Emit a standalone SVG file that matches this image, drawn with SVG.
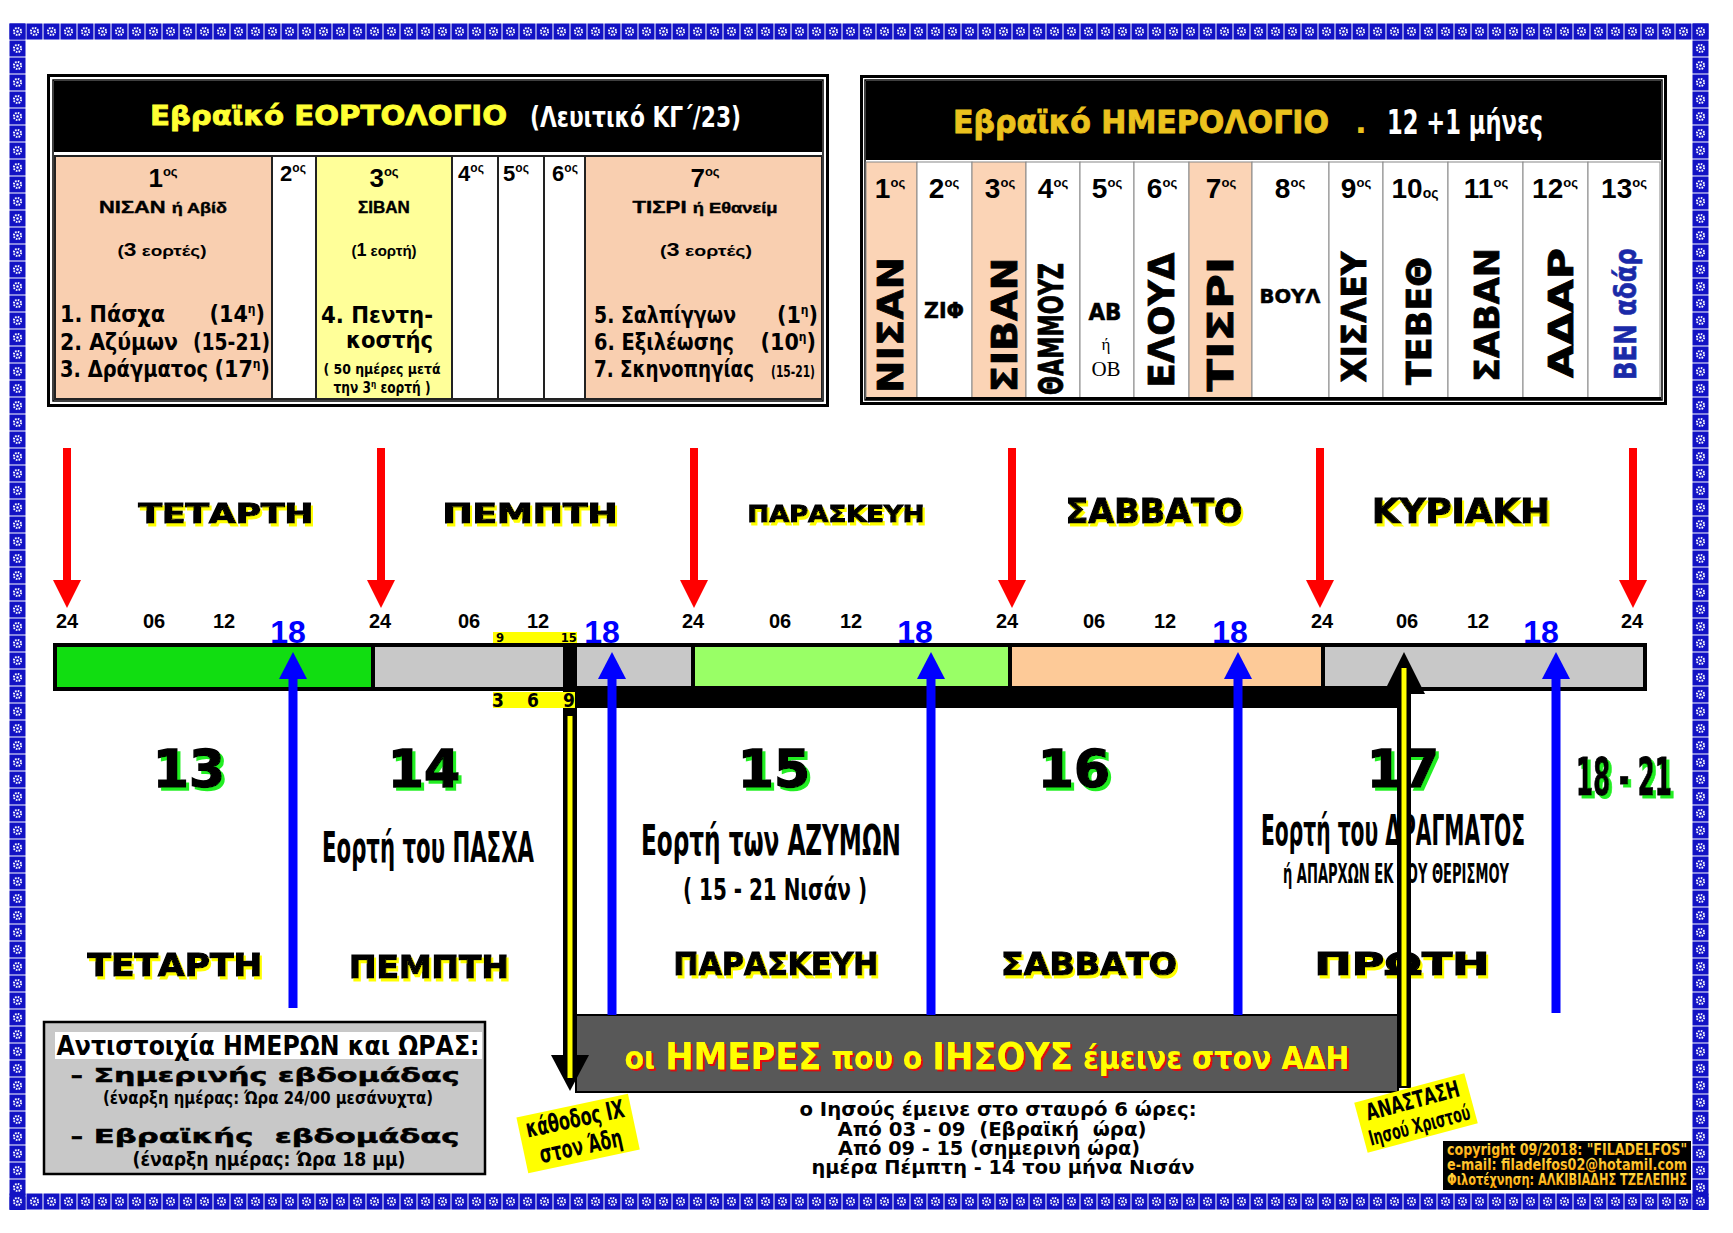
<svg xmlns="http://www.w3.org/2000/svg" width="1733" height="1233" viewBox="0 0 1733 1233">
<defs>
<style>
.hv{font-family:"DejaVu Sans","Liberation Sans",sans-serif;font-weight:bold}
.nb{font-family:"Liberation Sans Narrow","DejaVu Sans Condensed","Liberation Sans",sans-serif;font-weight:bold}
.ab{font-family:"Liberation Sans",Arial,sans-serif;font-weight:bold}
.sf{font-family:"Liberation Serif","Times New Roman",serif}
.m{text-anchor:middle}
.e{text-anchor:end}
.pre{white-space:pre}
.day{fill:#000;stroke:#000;stroke-width:1.2}
.num{fill:#000;stroke:#000;stroke-width:1.5}
.hr{font-size:20px;fill:#000}
.h18{font-size:32px;fill:#0000ff}
.vert{fill:#000;stroke:#000;stroke-width:0.8}
.mid4{font-size:19px;fill:#000}
.cell{stroke:#888;stroke-width:1}
</style>
<g id="tileG">
<rect x="0.5" y="0.5" width="16" height="16" fill="#1212c4"/>
<circle cx="8.5" cy="8.5" r="3.6" fill="none" stroke="#fff" stroke-width="2" stroke-dasharray="1.6 1.2"/>
<circle cx="8.5" cy="8.5" r="1.2" fill="#fff"/>
</g>
<pattern id="tileA" x="9" y="23" width="17" height="17" patternUnits="userSpaceOnUse"><use href="#tileG"/></pattern>
<pattern id="tileB" x="9" y="1193" width="17" height="17" patternUnits="userSpaceOnUse"><use href="#tileG"/></pattern>
<filter id="shY" x="-10%" y="-20%" width="130%" height="160%">
<feFlood flood-color="#ffff00"/><feComposite in2="SourceAlpha" operator="in"/><feOffset dx="2" dy="3" result="s"/>
<feMerge><feMergeNode in="s"/><feMergeNode in="SourceGraphic"/></feMerge>
</filter>
<filter id="shG" x="-10%" y="-20%" width="130%" height="160%">
<feFlood flood-color="#22ee22"/><feComposite in2="SourceAlpha" operator="in"/><feOffset dx="3" dy="3" result="s"/>
<feMerge><feMergeNode in="s"/><feMergeNode in="SourceGraphic"/></feMerge>
</filter>
<filter id="shR" x="-10%" y="-20%" width="130%" height="160%">
<feFlood flood-color="#e01010"/><feComposite in2="SourceAlpha" operator="in"/><feOffset dx="2" dy="2" result="s"/>
<feMerge><feMergeNode in="s"/><feMergeNode in="SourceGraphic"/></feMerge>
</filter>
<linearGradient id="gOr" x1="0" y1="0" x2="0" y2="1"><stop offset="0" stop-color="#ffe44d"/><stop offset="1" stop-color="#ff9a00"/></linearGradient>
<marker id="hRed" markerUnits="userSpaceOnUse" markerWidth="28" markerHeight="28" viewBox="0 0 28 28" refX="1" refY="14" orient="auto"><path d="M0,0 L28,14 L0,28 Z" fill="#ff0000"/></marker>
<marker id="hBlue" markerUnits="userSpaceOnUse" markerWidth="27" markerHeight="28" viewBox="0 0 27 28" refX="1" refY="14" orient="auto"><path d="M0,0 L27,14 L0,28 Z" fill="#0000ff"/></marker>
<marker id="hBlkD" markerUnits="userSpaceOnUse" markerWidth="36" markerHeight="38" viewBox="0 0 36 38" refX="1" refY="19" orient="auto"><path d="M0,0 L36,19 L0,38 Z" fill="#000"/></marker>
<marker id="hBlkU" markerUnits="userSpaceOnUse" markerWidth="42" markerHeight="42" viewBox="0 0 42 42" refX="1" refY="21" orient="auto"><path d="M0,0 L42,21 L0,42 Z" fill="#000"/></marker>
</defs>

<rect x="0" y="0" width="1733" height="1233" fill="#fff"/>

<g id="border">
<rect x="9" y="23" width="1700" height="17" fill="url(#tileA)"/>
<rect x="9" y="23" width="17" height="1187" fill="url(#tileA)"/>
<rect x="1692" y="23" width="17" height="1187" fill="url(#tileA)"/>
<rect x="9" y="1193" width="1700" height="17" fill="url(#tileB)"/>
</g>

<g id="festival-table">
<rect x="48.5" y="75.5" width="779" height="330" fill="#fff" stroke="#000" stroke-width="3"/>
<rect x="53" y="80" width="770" height="321" fill="none" stroke="#000" stroke-width="1.5"/>
<rect x="54" y="81" width="768" height="71" fill="#000"/>
<rect x="54" y="155" width="768" height="245" fill="#222"/>
<rect x="56" y="157" width="215" height="241" fill="#f9cfb0"/>
<rect x="273" y="157" width="42" height="241" fill="#fff"/>
<rect x="317" y="157" width="134" height="241" fill="#ffff99"/>
<rect x="453" y="157" width="44" height="241" fill="#fff"/>
<rect x="499" y="157" width="44" height="241" fill="#fff"/>
<rect x="545" y="157" width="39" height="241" fill="#fff"/>
<rect x="586" y="157" width="235" height="241" fill="#f9cfb0"/>
<text class="hv" x="150" y="125" font-size="27" fill="#ffff33" stroke="#ffff33" stroke-width="0.8" textLength="357" lengthAdjust="spacingAndGlyphs">Εβραϊκό ΕΟΡΤΟΛΟΓΙΟ</text>
<text class="nb" x="530" y="127" font-size="28" fill="#fff" textLength="211" lengthAdjust="spacingAndGlyphs">(Λευιτικό ΚΓ΄/23)</text>
<text class="ab m" x="163" y="187" font-size="26">1<tspan font-size="13" dy="-11">ος</tspan></text>
<text class="ab m" x="163" y="213" font-size="17" stroke="#000" stroke-width="0.4" textLength="128" lengthAdjust="spacingAndGlyphs">ΝΙΣΑΝ <tspan font-size="14">ή Αβίδ</tspan></text>
<text class="ab m" x="162" y="256" font-size="15" textLength="89" lengthAdjust="spacingAndGlyphs">(<tspan font-size="18">3</tspan> εορτές)</text>
<text class="nb" x="60" y="322" font-size="23" textLength="105" lengthAdjust="spacingAndGlyphs">1. Πάσχα</text>
<text class="nb e" x="265" y="322" font-size="23">(14<tspan font-size="12" dy="-9">η</tspan><tspan dy="9">)</tspan></text>
<text class="nb" x="60" y="350" font-size="23" textLength="118" lengthAdjust="spacingAndGlyphs">2. Αζύμων</text>
<text class="nb e" x="270" y="350" font-size="23" textLength="77" lengthAdjust="spacingAndGlyphs">(15-21)</text>
<text class="nb" x="60" y="377" font-size="23" textLength="148" lengthAdjust="spacingAndGlyphs">3. Δράγματος</text>
<text class="nb e" x="270" y="377" font-size="23">(17<tspan font-size="12" dy="-9">η</tspan><tspan dy="9">)</tspan></text>
<text class="ab m" x="293" y="181" font-size="22">2<tspan font-size="12" dy="-9">ος</tspan></text>
<text class="ab m" x="384" y="187" font-size="26">3<tspan font-size="13" dy="-11">ος</tspan></text>
<text class="ab m" x="384" y="213" font-size="17" stroke="#000" stroke-width="0.4">ΣΙΒΑΝ</text>
<text class="ab m" x="384" y="256" font-size="15">(<tspan font-size="18">1</tspan> εορτή)</text>
<text class="nb" x="321" y="323" font-size="23" textLength="112" lengthAdjust="spacingAndGlyphs">4. Πεντη-</text>
<text class="nb e" x="433" y="348" font-size="23" textLength="87" lengthAdjust="spacingAndGlyphs">κοστής</text>
<text class="nb m pre" x="382" y="374" font-size="14" textLength="117" lengthAdjust="spacingAndGlyphs">( 50 ημέρες μετά</text>
<text class="nb m" x="382" y="393" font-size="15" textLength="97" lengthAdjust="spacingAndGlyphs">την 3<tspan font-size="9" dy="-6">η</tspan><tspan dy="6"> εορτή )</tspan></text>
<text class="ab m" x="471" y="181" font-size="22">4<tspan font-size="12" dy="-9">ος</tspan></text>
<text class="ab m" x="516" y="181" font-size="22">5<tspan font-size="12" dy="-9">ος</tspan></text>
<text class="ab m" x="565" y="181" font-size="22">6<tspan font-size="12" dy="-9">ος</tspan></text>
<text class="ab m" x="705" y="187" font-size="26">7<tspan font-size="13" dy="-11">ος</tspan></text>
<text class="ab m" x="705" y="213" font-size="17" stroke="#000" stroke-width="0.4" textLength="145" lengthAdjust="spacingAndGlyphs">ΤΙΣΡΙ <tspan font-size="14">ή Εθανείμ</tspan></text>
<text class="ab m" x="706" y="256" font-size="15" textLength="92" lengthAdjust="spacingAndGlyphs">(<tspan font-size="18">3</tspan> εορτές)</text>
<text class="nb" x="594" y="323" font-size="23" textLength="142" lengthAdjust="spacingAndGlyphs">5. Σαλπίγγων</text>
<text class="nb e" x="818" y="323" font-size="23">(1<tspan font-size="12" dy="-9">η</tspan><tspan dy="9">)</tspan></text>
<text class="nb" x="594" y="350" font-size="23" textLength="140" lengthAdjust="spacingAndGlyphs">6. Εξιλέωσης</text>
<text class="nb e" x="816" y="350" font-size="23">(10<tspan font-size="12" dy="-9">η</tspan><tspan dy="9">)</tspan></text>
<text class="nb" x="594" y="377" font-size="23" textLength="160" lengthAdjust="spacingAndGlyphs">7. Σκηνοπηγίας</text>
<text class="nb e" x="815" y="377" font-size="15" textLength="44" lengthAdjust="spacingAndGlyphs">(15-21)</text>
</g>

<g id="calendar-table">
<rect x="861.5" y="76.5" width="804" height="327" fill="#fff" stroke="#000" stroke-width="3"/>
<rect x="865" y="80" width="797" height="320" fill="none" stroke="#000" stroke-width="1.5"/>
<rect x="866" y="81" width="795" height="79" fill="#000"/>
<rect x="866" y="162" width="51" height="236" fill="#fbd4b6" class="cell"/>
<rect x="917" y="162" width="55" height="236" fill="#fff" class="cell"/>
<rect x="972" y="162" width="54" height="236" fill="#fbd4b6" class="cell"/>
<rect x="1026" y="162" width="54" height="236" fill="#fff" class="cell"/>
<rect x="1080" y="162" width="54" height="236" fill="#fff" class="cell"/>
<rect x="1134" y="162" width="55" height="236" fill="#fff" class="cell"/>
<rect x="1189" y="162" width="63" height="236" fill="#fbd4b6" class="cell"/>
<rect x="1252" y="162" width="77" height="236" fill="#fff" class="cell"/>
<rect x="1329" y="162" width="54" height="236" fill="#fff" class="cell"/>
<rect x="1383" y="162" width="65" height="236" fill="#fff" class="cell"/>
<rect x="1448" y="162" width="75" height="236" fill="#fff" class="cell"/>
<rect x="1523" y="162" width="65" height="236" fill="#fff" class="cell"/>
<rect x="1588" y="162" width="72" height="236" fill="#fff" class="cell"/>
<line x1="866" y1="398.5" x2="1661" y2="398.5" stroke="#000" stroke-width="3"/>
<text class="hv" x="953" y="133" font-size="31" fill="#ebc21e" stroke="#ebc21e" stroke-width="0.8" textLength="376" lengthAdjust="spacingAndGlyphs">Εβραϊκό ΗΜΕΡΟΛΟΓΙΟ</text>
<text class="hv m" x="1361" y="133" font-size="31" fill="#ebc21e">.</text>
<text class="nb" x="1387" y="134" font-size="33" fill="#fff" textLength="156" lengthAdjust="spacingAndGlyphs">12 +1 μήνες</text>
<text class="ab m" x="890" y="198" font-size="28">1<tspan font-size="13" dy="-11">ος</tspan></text>
<text class="ab m" x="944" y="198" font-size="28">2<tspan font-size="13" dy="-11">ος</tspan></text>
<text class="ab m" x="1000" y="198" font-size="28">3<tspan font-size="13" dy="-11">ος</tspan></text>
<text class="ab m" x="1053" y="198" font-size="28">4<tspan font-size="13" dy="-11">ος</tspan></text>
<text class="ab m" x="1107" y="198" font-size="28">5<tspan font-size="13" dy="-11">ος</tspan></text>
<text class="ab m" x="1162" y="198" font-size="28">6<tspan font-size="13" dy="-11">ος</tspan></text>
<text class="ab m" x="1221" y="198" font-size="28">7<tspan font-size="13" dy="-11">ος</tspan></text>
<text class="ab m" x="1290" y="198" font-size="28">8<tspan font-size="13" dy="-11">ος</tspan></text>
<text class="ab m" x="1356" y="198" font-size="28">9<tspan font-size="13" dy="-11">ος</tspan></text>
<text class="ab m" x="1415" y="198" font-size="28">10<tspan font-size="14">ος</tspan></text>
<text class="ab m" x="1486" y="198" font-size="28">11<tspan font-size="13" dy="-11">ος</tspan></text>
<text class="ab m" x="1555" y="198" font-size="28">12<tspan font-size="13" dy="-11">ος</tspan></text>
<text class="ab m" x="1624" y="198" font-size="28">13<tspan font-size="13" dy="-11">ος</tspan></text>
<text class="hv vert m" transform="translate(890,325) rotate(-90)" dy="0.36em" font-size="36" textLength="136" lengthAdjust="spacingAndGlyphs">ΝΙΣΑΝ</text>
<text class="hv m" x="944" y="318" font-size="21" stroke="#000" stroke-width="0.5" textLength="40" lengthAdjust="spacingAndGlyphs">ΖΙΦ</text>
<text class="hv vert m" transform="translate(1004,325) rotate(-90)" dy="0.36em" font-size="36" textLength="135" lengthAdjust="spacingAndGlyphs">ΣΙΒΑΝ</text>
<text class="hv vert m" transform="translate(1051,329) rotate(-90)" dy="0.36em" font-size="33" textLength="132" lengthAdjust="spacingAndGlyphs">ΘΑΜΜΟΥΖ</text>
<text class="hv m" x="1105" y="320" font-size="23" stroke="#000" stroke-width="0.5" textLength="33" lengthAdjust="spacingAndGlyphs">ΑΒ</text>
<text class="sf m" x="1106" y="350" font-size="17">ή</text>
<text class="sf m" x="1106" y="376" font-size="21">ΟΒ</text>
<text class="hv vert m" transform="translate(1161,320) rotate(-90)" dy="0.36em" font-size="36" textLength="135" lengthAdjust="spacingAndGlyphs">ΕΛΟΥΔ</text>
<text class="hv vert m" transform="translate(1220,324) rotate(-90)" dy="0.36em" font-size="36" textLength="135" lengthAdjust="spacingAndGlyphs">ΤΙΣΡΙ</text>
<text class="hv m" x="1290" y="303" font-size="20" stroke="#000" stroke-width="0.5" textLength="61" lengthAdjust="spacingAndGlyphs">ΒΟΥΛ</text>
<text class="hv vert m" transform="translate(1354,317) rotate(-90)" dy="0.36em" font-size="33" textLength="131" lengthAdjust="spacingAndGlyphs">ΧΙΣΛΕΥ</text>
<text class="hv vert m" transform="translate(1419,321) rotate(-90)" dy="0.36em" font-size="33" textLength="128" lengthAdjust="spacingAndGlyphs">ΤΕΒΕΘ</text>
<text class="hv vert m" transform="translate(1487,315) rotate(-90)" dy="0.36em" font-size="33" textLength="134" lengthAdjust="spacingAndGlyphs">ΣΑΒΑΝ</text>
<text class="hv vert m" transform="translate(1561,313) rotate(-90)" dy="0.36em" font-size="33" textLength="130" lengthAdjust="spacingAndGlyphs">ΑΔΑΡ</text>
<text class="hv m" transform="translate(1625,314) rotate(-90)" dy="0.36em" font-size="30" fill="#1a2aa8" stroke="#1a2aa8" stroke-width="0.6" textLength="132" lengthAdjust="spacingAndGlyphs">ΒΕΝ αδάρ</text>
</g>

<g id="top-days">
<text class="hv day m" filter="url(#shY)" x="226" y="523" font-size="27" textLength="175" lengthAdjust="spacingAndGlyphs">ΤΕΤΑΡΤΗ</text>
<text class="hv day m" filter="url(#shY)" x="530" y="523" font-size="27" textLength="175" lengthAdjust="spacingAndGlyphs">ΠΕΜΠΤΗ</text>
<text class="hv day m" filter="url(#shY)" x="836" y="522" font-size="23" textLength="177" lengthAdjust="spacingAndGlyphs">ΠΑΡΑΣΚΕΥΗ</text>
<text class="hv day m" filter="url(#shY)" x="1154" y="523" font-size="34" textLength="177" lengthAdjust="spacingAndGlyphs">ΣΑΒΒΑΤΟ</text>
<text class="hv day m" filter="url(#shY)" x="1461" y="523" font-size="34" textLength="178" lengthAdjust="spacingAndGlyphs">ΚΥΡΙΑΚΗ</text>
</g>

<g id="hour-labels" class="ab m">
<text class="hr" x="67" y="628">24</text><text class="hr" x="154" y="628">06</text><text class="hr" x="224" y="628">12</text>
<text class="hr" x="380" y="628">24</text><text class="hr" x="469" y="628">06</text><text class="hr" x="538" y="628">12</text>
<text class="hr" x="693" y="628">24</text><text class="hr" x="780" y="628">06</text><text class="hr" x="851" y="628">12</text>
<text class="hr" x="1007" y="628">24</text><text class="hr" x="1094" y="628">06</text><text class="hr" x="1165" y="628">12</text>
<text class="hr" x="1322" y="628">24</text><text class="hr" x="1407" y="628">06</text><text class="hr" x="1478" y="628">12</text>
<text class="hr" x="1632" y="628">24</text>
<text class="h18" x="288" y="643">18</text><text class="h18" x="602" y="643">18</text><text class="h18" x="915" y="643">18</text>
<text class="h18" x="1230" y="643">18</text><text class="h18" x="1541" y="643">18</text>
</g>

<g id="time-bar">
<rect x="53" y="643" width="1594" height="48" fill="#000"/>
<rect x="57" y="647" width="314" height="40" fill="#11dd11"/>
<rect x="375" y="647" width="188" height="40" fill="#c8c8c8"/>
<rect x="577" y="647" width="114" height="40" fill="#c8c8c8"/>
<rect x="695" y="647" width="313" height="40" fill="#99ff66"/>
<rect x="1012" y="647" width="309" height="40" fill="#fdca98"/>
<rect x="1325" y="647" width="318" height="40" fill="#c8c8c8"/>
<rect x="563" y="686" width="841" height="22" fill="#000"/>
<rect x="493" y="632" width="84" height="11" fill="#ffff00"/>
<text class="nb" x="496" y="642" font-size="13">9</text>
<text class="nb e" x="577" y="642" font-size="13">15</text>
</g>

<g id="day-numbers" class="hv m">
<text class="num" filter="url(#shG)" x="189" y="787" font-size="52">13</text>
<text class="num" filter="url(#shG)" x="424" y="787" font-size="52">14</text>
<text class="num" filter="url(#shG)" x="774" y="787" font-size="52">15</text>
<text class="num" filter="url(#shG)" x="1074" y="787" font-size="52">16</text>
<text class="num" filter="url(#shG)" x="1403" y="787" font-size="52">17</text>
</g>
<text id="days-18-21" class="nb m" filter="url(#shG)" x="1624" y="795" font-size="52" stroke="#000" stroke-width="1" textLength="96" lengthAdjust="spacingAndGlyphs">18 - 21</text>

<g id="feasts" class="nb m">
<text x="428" y="862" font-size="42" textLength="212" lengthAdjust="spacingAndGlyphs">Εορτή του ΠΑΣΧΑ</text>
<text x="771" y="855" font-size="42" textLength="260" lengthAdjust="spacingAndGlyphs">Εορτή των ΑΖΥΜΩΝ</text>
<text x="775" y="900" font-size="30" textLength="184" lengthAdjust="spacingAndGlyphs">( 15 - 21 Νισάν )</text>
<text x="1393" y="845" font-size="42" textLength="264" lengthAdjust="spacingAndGlyphs">Εορτή του ΔΡΑΓΜΑΤΟΣ</text>
<text x="1396" y="883" font-size="26" textLength="226" lengthAdjust="spacingAndGlyphs">ή ΑΠΑΡΧΩΝ ΕΚ ΤΟΥ ΘΕΡΙΣΜΟΥ</text>
</g>

<g id="bottom-days">
<text class="hv day m" filter="url(#shY)" x="175" y="976" font-size="31" textLength="175" lengthAdjust="spacingAndGlyphs">ΤΕΤΑΡΤΗ</text>
<text class="hv day m" filter="url(#shY)" x="429" y="978" font-size="31" textLength="160" lengthAdjust="spacingAndGlyphs">ΠΕΜΠΤΗ</text>
<text class="hv day m" filter="url(#shY)" x="776" y="975" font-size="31" textLength="205" lengthAdjust="spacingAndGlyphs">ΠΑΡΑΣΚΕΥΗ</text>
<text class="hv day m" filter="url(#shY)" x="1089" y="975" font-size="31" textLength="176" lengthAdjust="spacingAndGlyphs">ΣΑΒΒΑΤΟ</text>
<text class="hv day m" filter="url(#shY)" x="1402" y="975" font-size="31" textLength="175" lengthAdjust="spacingAndGlyphs">ΠΡΩΤΗ</text>
</g>

<g id="hades-box">
<rect x="576" y="1015" width="822" height="77" fill="#585858" stroke="#000" stroke-width="2"/>
<text class="nb m" filter="url(#shR)" x="987" y="1069" font-size="32" fill="#ffff00" textLength="725" lengthAdjust="spacingAndGlyphs">οι <tspan font-size="38">ΗΜΕΡΕΣ</tspan> που ο <tspan font-size="38">ΙΗΣΟΥΣ</tspan> έμεινε στον ΑΔΗ</text>
</g>

<g id="connectors">
<line x1="67" y1="448" x2="67" y2="581" stroke="#ff0000" stroke-width="8" marker-end="url(#hRed)"/>
<line x1="381" y1="448" x2="381" y2="581" stroke="#ff0000" stroke-width="8" marker-end="url(#hRed)"/>
<line x1="694" y1="448" x2="694" y2="581" stroke="#ff0000" stroke-width="8" marker-end="url(#hRed)"/>
<line x1="1012" y1="448" x2="1012" y2="581" stroke="#ff0000" stroke-width="8" marker-end="url(#hRed)"/>
<line x1="1320" y1="448" x2="1320" y2="581" stroke="#ff0000" stroke-width="8" marker-end="url(#hRed)"/>
<line x1="1633" y1="448" x2="1633" y2="581" stroke="#ff0000" stroke-width="8" marker-end="url(#hRed)"/>
<line x1="293" y1="1008" x2="293" y2="678" stroke="#0000ff" stroke-width="9" marker-end="url(#hBlue)"/>
<line x1="612" y1="1015" x2="612" y2="678" stroke="#0000ff" stroke-width="9" marker-end="url(#hBlue)"/>
<line x1="931" y1="1015" x2="931" y2="678" stroke="#0000ff" stroke-width="9" marker-end="url(#hBlue)"/>
<line x1="1238" y1="1015" x2="1238" y2="678" stroke="#0000ff" stroke-width="9" marker-end="url(#hBlue)"/>
<line x1="1556" y1="1013" x2="1556" y2="678" stroke="#0000ff" stroke-width="9" marker-end="url(#hBlue)"/>
<line x1="570" y1="646" x2="570" y2="1056" stroke="#000" stroke-width="14" marker-end="url(#hBlkD)"/>
<line x1="570" y1="716" x2="570" y2="1078" stroke="#ffff00" stroke-width="5"/>
<line x1="1404" y1="1088" x2="1404" y2="693" stroke="#000" stroke-width="14" marker-end="url(#hBlkU)"/>
<line x1="1404" y1="1086" x2="1404" y2="668" stroke="#ffff00" stroke-width="5"/>
</g>

<g id="hour-369">
<rect x="493" y="692" width="82" height="16" fill="#ffff00"/>
<text class="nb m" x="498" y="707" font-size="19">3</text>
<text class="nb m" x="533" y="707" font-size="19">6</text>
<text class="nb m" x="569" y="707" font-size="19">9</text>
</g>

<g id="legend">
<rect x="44" y="1022" width="441" height="152" fill="#c8c8c8" stroke="#000" stroke-width="2.5"/>
<rect x="55" y="1032" width="427" height="27" fill="#fff"/>
<text class="nb m" x="268" y="1055" font-size="27" textLength="423" lengthAdjust="spacingAndGlyphs">Αντιστοιχία ΗΜΕΡΩΝ και ΩΡΑΣ:</text>
<text class="hv m" x="265" y="1082" font-size="20" stroke="#000" stroke-width="0.5" textLength="389" lengthAdjust="spacingAndGlyphs">- Σημερινής εβδομάδας</text>
<text class="nb m" x="268" y="1104" font-size="18" textLength="330" lengthAdjust="spacingAndGlyphs">(έναρξη ημέρας: Ώρα 24/00 μεσάνυχτα)</text>
<text class="hv m pre" x="265" y="1143" font-size="20" stroke="#000" stroke-width="0.5" textLength="389" lengthAdjust="spacingAndGlyphs">- Εβραϊκής  εβδομάδας</text>
<text class="nb m" x="269" y="1166" font-size="19" textLength="273" lengthAdjust="spacingAndGlyphs">(έναρξη ημέρας: Ώρα 18 μμ)</text>
</g>

<g id="label-descent" transform="rotate(-12 578 1133)">
<rect x="521" y="1105" width="114" height="57" fill="#ffff00"/>
<text class="nb m" x="578" y="1127" font-size="25" textLength="100" lengthAdjust="spacingAndGlyphs">κάθοδος ΙΧ</text>
<text class="nb m" x="578" y="1155" font-size="25" textLength="84" lengthAdjust="spacingAndGlyphs">στον Άδη</text>
</g>

<g id="label-resurrection" transform="rotate(-15 1416 1113)">
<rect x="1359" y="1087" width="114" height="52" fill="#ffff00"/>
<text class="nb m" x="1416" y="1108" font-size="23" textLength="96" lengthAdjust="spacingAndGlyphs">ΑΝΑΣΤΑΣΗ</text>
<text class="nb m" x="1416" y="1133" font-size="21" textLength="104" lengthAdjust="spacingAndGlyphs">Ιησού Χριστού</text>
</g>

<g id="cross-note" class="hv m">
<text class="mid4" x="998" y="1116" textLength="397" lengthAdjust="spacingAndGlyphs">ο Ιησούς έμεινε στο σταυρό 6 ώρες:</text>
<text class="mid4 pre" x="992" y="1136" textLength="309" lengthAdjust="spacingAndGlyphs">Από 03 - 09  (Εβραϊκή  ώρα)</text>
<text class="mid4" x="989" y="1155" textLength="302" lengthAdjust="spacingAndGlyphs">Από 09 - 15 (σημερινή ώρα)</text>
<text class="mid4" x="1003" y="1174" textLength="383" lengthAdjust="spacingAndGlyphs">ημέρα Πέμπτη - 14 του μήνα Νισάν</text>
</g>

<g id="copyright">
<rect x="1443" y="1141" width="248" height="49" fill="#000"/>
<text class="nb m" x="1567" y="1155" font-size="15" fill="url(#gOr)" textLength="240" lengthAdjust="spacingAndGlyphs">copyright 09/2018: "FILADELFOS"</text>
<text class="nb m" x="1567" y="1170" font-size="15" fill="url(#gOr)" textLength="240" lengthAdjust="spacingAndGlyphs">e-mail: filadelfos02@hotamil.com</text>
<text class="nb m" x="1567" y="1185" font-size="15" fill="url(#gOr)" textLength="240" lengthAdjust="spacingAndGlyphs">Φιλοτέχνηση: ΑΛΚΙΒΙΑΔΗΣ ΤΖΕΛΕΠΗΣ</text>
</g>
</svg>
